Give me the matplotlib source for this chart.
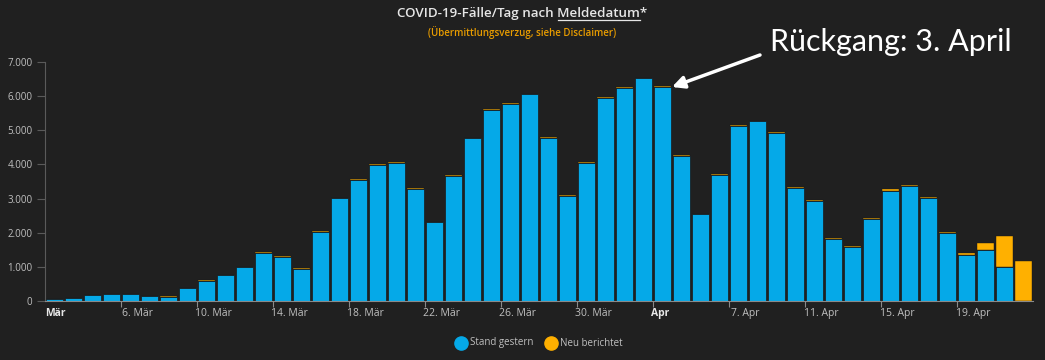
import matplotlib.pyplot as plt
from matplotlib.patches import FancyArrowPatch
from matplotlib.lines import Line2D
import numpy as np

# Daily COVID-19 cases by report date, 2 Mar - 22 Apr 2020
dates = ["2. Mär", "3. Mär", "4. Mär", "5. Mär", "6. Mär", "7. Mär", "8. Mär",
         "9. Mär", "10. Mär", "11. Mär", "12. Mär", "13. Mär", "14. Mär", "15. Mär",
         "16. Mär", "17. Mär", "18. Mär", "19. Mär", "20. Mär", "21. Mär", "22. Mär",
         "23. Mär", "24. Mär", "25. Mär", "26. Mär", "27. Mär", "28. Mär", "29. Mär",
         "30. Mär", "31. Mär", "1. Apr", "2. Apr", "3. Apr", "4. Apr", "5. Apr",
         "6. Apr", "7. Apr", "8. Apr", "9. Apr", "10. Apr", "11. Apr", "12. Apr",
         "13. Apr", "14. Apr", "15. Apr", "16. Apr", "17. Apr", "18. Apr", "19. Apr",
         "20. Apr", "21. Apr", "22. Apr"]
stand_gestern = [65, 90, 180, 205, 200, 150, 130, 380, 600, 760, 995, 1415, 1295, 950,
                 2025, 3005, 3540, 3995, 4040, 3290, 2305, 3660, 4760, 5600, 5780, 6050,
                 4770, 3085, 4050, 5960, 6240, 6520, 6280, 4255, 2545, 3705, 5130, 5260,
                 4920, 3310, 2930, 1830, 1595, 2390, 3235, 3355, 3005, 1995, 1355, 1490,
                 1000, 0]
neu_berichtet = [5, 8, 10, 10, 10, 8, 8, 8, 12, 15, 15, 15, 15, 12,
                 15, 15, 20, 25, 20, 20, 15, 20, 20, 20, 20, 20,
                 20, 15, 20, 20, 20, 20, 20, 15, 15, 15, 20, 20,
                 20, 20, 20, 20, 15, 30, 40, 50, 40, 40, 40, 200,
                 910, 1180]

# labels shown on the x axis (index into dates, text)
tick_idx = [0, 4, 8, 12, 16, 20, 24, 28, 30, 36, 40, 44, 48]
tick_txt = ["Mär", "6. Mär", "10. Mär", "14. Mär", "18. Mär", "22. Mär", "26. Mär",
            "30. Mär", "Apr", "7. Apr", "11. Apr", "15. Apr", "19. Apr"]
y_ticks = [0, 1000, 2000, 3000, 4000, 5000, 6000, 7000]

BG = "#202020"
BLUE = "#05a9e8"
ORANGE = "#ffb000"
GREY = "#c0c0c0"

plt.rcParams["font.family"] = ["Open Sans", "DejaVu Sans"]

fig = plt.figure(figsize=(10.45, 3.6), dpi=100, facecolor=BG)
ax = fig.add_axes([45 / 1045, 1 - 301 / 360, 988 / 1045, 239 / 360])
ax.set_facecolor(BG)

x = np.arange(len(dates))
sg = np.array(stand_gestern)
nb = np.array(neu_berichtet)
ax.bar(x, sg, width=0.86, color=BLUE, edgecolor="#1a1a1a", linewidth=0.5, zorder=2)
ax.bar(x, nb, bottom=sg, width=0.86, color=ORANGE, edgecolor="#1a1a1a", linewidth=0.3,
       zorder=2)

ax.set_xlim(-0.5, len(dates) - 0.5)
ax.set_ylim(0, 7000)

for s in ["top", "right"]:
    ax.spines[s].set_visible(False)
ax.spines["left"].set_color("#5a5a5a")
ax.spines["bottom"].set_color("#8a8a8a")

ax.set_yticks(y_ticks)
ax.set_yticklabels([f"{v:,}".replace(",", ".") for v in y_ticks])
ax.tick_params(axis="y", colors="#5a5a5a", labelcolor=GREY, labelsize=7,
               length=6, width=0.8, pad=3)

# label positions as the original draws them (slightly right of the bar centres)
pos = []
for i, t in zip(tick_idx, tick_txt):
    if t == "Mär":
        pos.append(i + 0.05)
    elif t == "Apr":
        pos.append(i + 1.9)
    else:
        pos.append(i + 0.35)
ax.set_xticks(pos)
ax.set_xticklabels(tick_txt)
ax.tick_params(axis="x", length=0, labelsize=7.5, labelcolor=GREY, pad=5)
for lbl in ax.get_xticklabels():
    if lbl.get_text() in ("Mär", "Apr"):
        lbl.set_fontweight("bold")
        lbl.set_color("#e8e8e8")
ax.set_xticks(np.arange(3.5, len(dates) - 1, 4), minor=True)
ax.tick_params(axis="x", which="minor", length=4, color="#8a8a8a", width=0.8)

# title with underlined word
title = "COVID-19-Fälle/Tag nach Meldedatum*"
TS = 9.6
t = fig.text(0.5, 1 - 14 / 360, title, ha="center", va="center", color="#e6e6e6",
             fontsize=TS, fontweight="semibold")
fig.canvas.draw()
r = fig.canvas.get_renderer()
full = t.get_window_extent(r)
tmp = fig.text(0, 0, "COVID-19-Fälle/Tag nach Meldedatum", fontsize=TS, fontweight="semibold")
w1 = tmp.get_window_extent(r).width
tmp.remove()
tmp = fig.text(0, 0, "Meldedatum", fontsize=TS, fontweight="semibold")
w_word = tmp.get_window_extent(r).width
tmp.remove()
x_end = full.x0 + w1
x_start = x_end - w_word
y_line = full.y0 + 1
fig.add_artist(Line2D([x_start / fig.bbox.width, x_end / fig.bbox.width],
                      [y_line / fig.bbox.height] * 2, color="#e6e6e6", lw=0.9))

fig.text(0.5, 1 - 33 / 360, "(Übermittlungsverzug, siehe Disclaimer)", ha="center",
         va="center", color="#e89c00", fontsize=7, fontweight="semibold")

# annotation
fig.text(770 / 1045, 1 - 42 / 360, "Rückgang: 3. April", ha="left", va="center",
         color="white", fontsize=22, family=["Lato", "DejaVu Sans"])
fig.add_artist(FancyArrowPatch((760 / 1045, 1 - 55 / 360), (672 / 1045, 1 - 87 / 360),
                               transform=fig.transFigure, arrowstyle="-|>",
                               mutation_scale=18, color="white", lw=2.5,
                               shrinkA=0, shrinkB=0))

# legend
for cx, col, lab in [(461, BLUE, "Stand gestern"), (551, ORANGE, "Neu berichtet")]:
    fig.add_artist(Line2D([cx / 1045], [1 - 343 / 360], marker="o", markersize=9.5,
                          color=col, linestyle="none"))
    fig.text((cx + 9) / 1045, 1 - 343 / 360, lab, ha="left", va="center",
             color=GREY, fontsize=7)

fig.savefig("out.png", dpi=100, facecolor=BG)
